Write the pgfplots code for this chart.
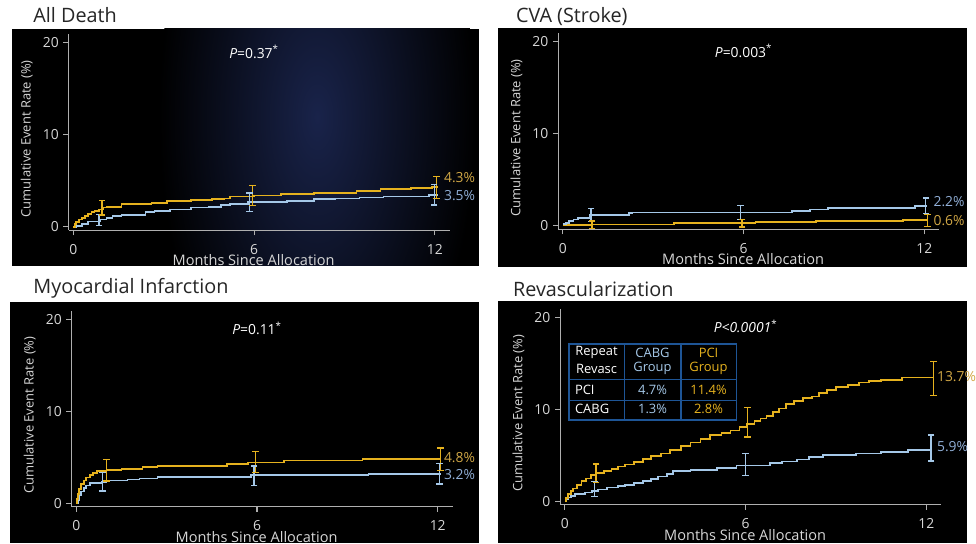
\documentclass[border=0pt]{standalone}
\usepackage{pgfplots}
\pgfplotsset{compat=1.18}
\usepackage{fontspec}
\setmainfont{Open Sans}
\definecolor{ycol}{RGB}{230,178,30}
\definecolor{bcol}{RGB}{165,200,232}
\definecolor{ylab}{RGB}{210,168,70}
\definecolor{blab}{RGB}{145,175,215}
\definecolor{axgray}{RGB}{175,175,175}
\definecolor{txtgray}{RGB}{215,215,215}
\definecolor{tblue}{RGB}{30,85,150}
\definecolor{glow}{RGB}{25,35,74}
\pgfplotsset{
 panel/.style={
  scale only axis, width=288.4pt, height=148.2pt, anchor=south west,
  xmin=-0.15, xmax=12.5, ymin=-0.35, ymax=20.9,
  axis x line=bottom, axis y line=left,
  axis line style={draw=axgray, line width=0.8pt, -},
  xtick={0,6,12}, ytick={0,10,20}, minor tick num=0,
  tick style={draw=axgray, line width=0.8pt},
  tick align=outside, major tick length=4pt,
  ticklabel style={text=txtgray, font=\fontsize{10.5}{12}\selectfont},
  /pgf/number format/assume math mode=true,
  xticklabel style={yshift=-3pt},
  clip=false,
 },
 km/.style={const plot, line width=1.3pt, mark=none},
 eb/.style={#1, line width=1pt, mark=-, mark size=2.5pt,
   mark options={solid, line width=1pt, #1}, unbounded coords=jump},
}
\tikzset{
 pv/.style={text=white, font=\fontsize{10.5}{12}\selectfont},
 el/.style={anchor=west, font=\fontsize{10.5}{12}\selectfont, inner sep=0pt},
 xl/.style={text=txtgray, font=\fontsize{11}{13}\selectfont, inner sep=0pt},
 yl/.style={text=txtgray, font=\fontsize{9.8}{12}\selectfont, inner sep=0pt, rotate=90},
}
\newcommand{\labels}{%
 \node[xl] at (axis description cs:0.485,-0.155) {Months Since Allocation};
 \node[yl] at (axis description cs:-0.110,0.467) {Cumulative Event Rate (\%)};
}
\begin{document}
\begin{tikzpicture}
\begin{scope}[x=0.75pt,y=0.75pt]
\useasboundingbox (0,0) rectangle (976,548);
\fill[white] (0,0) rectangle (976,548);
% panel backgrounds
\fill[black] (12,280) rectangle (483,519);
\begin{scope}
\clip (12,280) rectangle (483,519);
\shade[inner color=glow, outer color=black] (320,430) ellipse [x radius=160, y radius=330];
\end{scope}
\fill[black] (503,279) rectangle (976,520);
\fill[black] (10,0) rectangle (483,243);
\fill[black] (503,0) rectangle (976,244);
% titles
\node[anchor=base west, font=\fontsize{15}{18}\selectfont, text=black!85] at (29,525) {All Death};
\node[anchor=base west, font=\fontsize{15}{18}\selectfont, text=black!85] at (516,525) {CVA (Stroke)};
\node[anchor=base west, font=\fontsize{15}{18}\selectfont, text=black!85] at (29,252) {Myocardial Infarction};
\node[anchor=base west, font=\fontsize{15}{18}\selectfont, text=black!85] at (513,249) {Revascularization};
\end{scope}

% ---------- All Death
\begin{axis}[panel, at={(52.05pt,236.78pt)}]
\addplot[km, bcol] coordinates {(0,0)(0.1,0.1)(0.3,0.3)(0.5,0.6)(0.9,0.8)(1.1,1.0)(1.3,1.2)(1.6,1.3)(2.4,1.6)(2.7,1.7)(3.2,1.9)(3.9,2.1)(4.5,2.2)(4.9,2.4)(5.2,2.5)(5.8,2.7)(7.1,2.8)(8.0,3.0)(8.7,3.1)(9.5,3.2)(10.3,3.3)(11.8,3.5)(12.1,3.5)};
\addplot[km, ycol] coordinates {(0,0)(0.05,0.3)(0.1,0.5)(0.2,0.8)(0.3,1.0)(0.4,1.2)(0.5,1.4)(0.6,1.6)(0.7,1.75)(0.85,1.9)(1.0,2.1)(1.1,2.2)(1.6,2.5)(2.6,2.6)(3.1,2.8)(3.9,2.9)(4.6,3.0)(5.0,3.1)(5.2,3.3)(6.0,3.4)(6.9,3.6)(8.0,3.7)(9.4,3.9)(10.2,4.1)(11.2,4.2)(11.9,4.3)(12.1,4.3)};
\addplot[eb=bcol] coordinates {(0.85,0.15)(0.85,1.35) (nan,nan) (5.85,1.7)(5.85,3.7) (nan,nan) (11.98,2.4)(11.98,4.6)};
\addplot[eb=ycol] coordinates {(0.95,1.3)(0.95,2.9) (nan,nan) (5.95,2.3)(5.95,4.5) (nan,nan) (12.05,3.1)(12.05,5.5)};
\node[pv] at (axis cs:6,19) {\textit{P}=0.37\textsuperscript{*}};
\node[el, text=ylab] at (axis cs:12.3,5.4) {4.3\%};
\node[el, text=blab] at (axis cs:12.3,3.4) {3.5\%};
\labels
\end{axis}

% ---------- CVA
\begin{axis}[panel, at={(422.55pt,237.53pt)}]
\addplot[km, ycol] coordinates {(0,0.1)(0.9,0.15)(3.7,0.3)(6.4,0.4)(8.4,0.55)(11.3,0.65)(12.1,0.65)};
\addplot[km, bcol] coordinates {(0,0.2)(0.1,0.3)(0.2,0.5)(0.35,0.7)(0.5,0.9)(0.9,1.2)(2.2,1.4)(2.3,1.45)(7.6,1.6)(8.2,1.8)(8.8,1.95)(11.7,2.2)(12.1,2.2)};
\addplot[eb=bcol] coordinates {(0.93,0.5)(0.93,1.9) (nan,nan) (5.9,0.7)(5.9,2.2) (nan,nan) (12.05,1.35)(12.05,3.05)};
\addplot[eb=ycol] coordinates {(0.97,-0.25)(0.97,0.55) (nan,nan) (5.95,-0.1)(5.95,0.7) (nan,nan) (12.1,-0.05)(12.1,1.25)};
\node[pv] at (axis cs:6,19) {\textit{P}=0.003\textsuperscript{*}};
\node[el, text=blab] at (axis cs:12.3,2.7) {2.2\%};
\node[el, text=ylab] at (axis cs:12.3,0.55) {0.6\%};
\labels
\end{axis}

% ---------- MI
\begin{axis}[panel, at={(54.3pt,27.53pt)}]
\addplot[km, bcol] coordinates {(0,0)(0.05,0.4)(0.1,0.9)(0.15,1.3)(0.25,1.7)(0.33,1.95)(0.45,2.2)(0.85,2.35)(1.0,2.5)(1.7,2.6)(2.1,2.7)(2.7,2.85)(5.8,3.05)(9.7,3.2)(12.1,3.2)};
\addplot[km, ycol] coordinates {(0,0)(0.03,0.5)(0.06,1.0)(0.1,1.6)(0.15,2.1)(0.25,2.5)(0.33,2.8)(0.45,3.1)(0.55,3.3)(0.7,3.55)(1.0,3.6)(1.5,3.75)(2.2,3.95)(2.7,4.1)(5.0,4.3)(5.7,4.45)(6.9,4.65)(9.5,4.8)(12.1,4.8)};
\addplot[eb=bcol] coordinates {(0.88,1.35)(0.88,3.35) (nan,nan) (5.9,1.95)(5.9,4.05) (nan,nan) (12.05,2.1)(12.05,4.3)};
\addplot[eb=ycol] coordinates {(1.0,2.45)(1.0,4.75) (nan,nan) (5.95,3.35)(5.95,5.65) (nan,nan) (12.1,3.6)(12.1,6.0)};
\node[pv] at (axis cs:6,19) {\textit{P}=0.11\textsuperscript{*}};
\node[el, text=ylab] at (axis cs:12.2,4.95) {4.8\%};
\node[el, text=blab] at (axis cs:12.2,3.1) {3.2\%};
\labels
\end{axis}

% ---------- Revascularization
\begin{axis}[panel, at={(424.05pt,29.03pt)}]
\addplot[km, bcol] coordinates {(0,0)(0.05,0.2)(0.1,0.43)(0.2,0.6)(0.33,0.78)(0.66,0.96)(0.9,1.1)(1.1,1.3)(1.4,1.5)(1.76,1.67)(2.0,1.8)(2.3,2.0)(2.6,2.2)(2.85,2.4)(3.1,2.7)(3.4,3.0)(3.6,3.3)(4.17,3.4)(5.05,3.6)(5.7,3.9)(6.8,4.2)(7.2,4.35)(7.7,4.55)(8.1,4.8)(8.56,5.05)(9.66,5.2)(10.5,5.4)(11.4,5.6)(12.15,5.7)};
\addplot[km, ycol] coordinates {(0,0)(0.05,0.4)(0.1,0.8)(0.2,1.1)(0.27,1.4)(0.4,1.8)(0.55,2.2)(0.7,2.5)(0.88,2.85)(1.04,3.1)(1.3,3.3)(1.55,3.55)(1.76,3.8)(2.0,4.0)(2.3,4.3)(2.6,4.6)(2.85,4.9)(3.2,5.2)(3.5,5.6)(3.85,6.0)(4.17,6.4)(4.5,6.8)(4.83,7.2)(5.2,7.45)(5.5,7.7)(5.8,8.05)(6.04,8.4)(6.3,8.7)(6.5,9.0)(6.7,9.3)(6.9,9.7)(7.1,10.1)(7.35,10.6)(7.6,10.9)(7.9,11.2)(8.2,11.4)(8.45,11.8)(8.7,12.1)(9.0,12.4)(9.4,12.6)(9.77,12.9)(10.1,13.05)(10.5,13.2)(11.2,13.45)(12.25,13.45)};
\addplot[eb=bcol] coordinates {(0.99,0.53)(0.99,2.13) (nan,nan) (6.0,2.8)(6.0,5.2) (nan,nan) (12.16,4.4)(12.16,7.2)};
\addplot[eb=ycol] coordinates {(1.04,2.05)(1.04,4.05) (nan,nan) (6.07,7.0)(6.07,10.2) (nan,nan) (12.24,11.5)(12.24,15.2)};
\node[pv] at (axis cs:6,19) {\textit{P<0.0001}\textsuperscript{*}};
\node[el, text=ylab] at (axis cs:12.35,13.6) {13.7\%};
\node[el, text=blab] at (axis cs:12.35,5.95) {5.9\%};
\labels
\end{axis}

% table
\begin{scope}[x=0.75pt,y=0.75pt]
\begin{scope}[tblue, line width=1.1pt]
\draw (574,124) rectangle (743,201);
\draw (630,124) -- (630,201);
\draw (687,124) -- (687,201);
\draw (574,165) -- (743,165);
\draw (574,144) -- (743,144);
\end{scope}
\begin{scope}[every node/.style={font=\fontsize{9.8}{11}\selectfont, inner sep=0pt}]
\node[text=white] at (602,192) {Repeat};
\node[text=white] at (602,176) {Revasc};
\node[text=bcol] at (658.5,192) {CABG};
\node[text=bcol] at (658.5,176) {Group};
\node[text=ycol] at (715,192) {PCI};
\node[text=ycol] at (715,176) {Group};
\node[text=white, anchor=west] at (580,155) {PCI};
\node[text=bcol] at (658.5,155) {4.7\%};
\node[text=ycol] at (715,155) {11.4\%};
\node[text=white, anchor=west] at (580,135) {CABG};
\node[text=bcol] at (658.5,135) {1.3\%};
\node[text=ycol] at (715,135) {2.8\%};
\end{scope}
\end{scope}
\end{tikzpicture}
\end{document}
